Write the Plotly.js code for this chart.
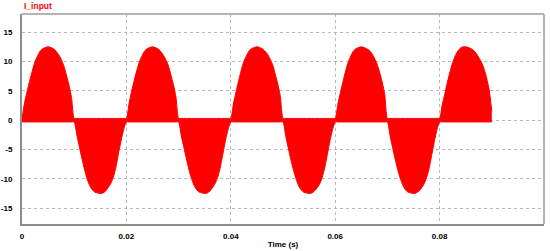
<!DOCTYPE html>
<html>
<head>
<meta charset="utf-8">
<script src="https://cdn.plot.ly/plotly-3.0.1.min.js"></script>
<style>
  html, body { margin: 0; padding: 0; background: #ffffff; }
  #chart { width: 550px; height: 251px; }
</style>
</head>
<body>
<div id="chart"></div>
<script>
// ---- data ----
const seriesName = "I_input";
const sampleStep = 0.0005;           // s between envelope samples
// envelope of the switched current (A), one value per sample, t = 0 ... 0.09 s
const iEnvelope = [
  // 0.000 - 0.0095 (positive)
  0.3, 3.0, 5.0, 6.8, 8.5, 10.0, 11.0, 11.8, 12.2, 12.4, 12.5, 12.4, 12.2, 11.8, 11.2, 10.4, 9.3, 7.7, 6.0, 3.8,
  // 0.010 - 0.0195 (negative)
  -0.3, -2.5, -4.6, -6.6, -8.5, -10.1, -11.2, -11.9, -12.3, -12.4, -12.5, -12.4, -12.1, -11.5, -10.8, -9.7, -8.0, -5.6, -3.4, -1.5,
  // 0.020 - 0.0295
  0.3, 2.8, 4.9, 6.8, 8.5, 10.0, 11.0, 11.8, 12.2, 12.4, 12.5, 12.4, 12.2, 11.8, 11.2, 10.4, 9.4, 7.8, 6.1, 3.9,
  // 0.030 - 0.0395
  -0.3, -2.6, -4.6, -6.6, -8.5, -10.0, -11.2, -11.9, -12.3, -12.4, -12.5, -12.4, -12.1, -11.5, -10.8, -9.7, -8.0, -5.7, -3.4, -1.5,
  // 0.040 - 0.0495
  0.3, 2.8, 4.8, 6.7, 8.5, 10.0, 11.0, 11.8, 12.2, 12.4, 12.5, 12.4, 12.2, 11.8, 11.3, 10.5, 9.5, 7.9, 6.2, 4.0,
  // 0.050 - 0.0595
  -0.3, -2.6, -4.7, -6.7, -8.5, -10.0, -11.2, -11.9, -12.3, -12.4, -12.5, -12.4, -12.1, -11.6, -10.9, -9.8, -8.1, -5.8, -3.5, -1.6,
  // 0.060 - 0.0695
  0.3, 2.7, 4.7, 6.6, 8.4, 9.9, 11.0, 11.8, 12.2, 12.4, 12.5, 12.4, 12.2, 11.9, 11.4, 10.6, 9.6, 8.2, 6.5, 4.3,
  // 0.070 - 0.0795
  -0.3, -2.6, -4.7, -6.7, -8.5, -10.0, -11.2, -11.9, -12.3, -12.4, -12.5, -12.4, -12.1, -11.6, -10.9, -9.8, -8.2, -5.9, -3.6, -1.6,
  // 0.080 - 0.090
  0.3, 2.6, 4.5, 6.5, 8.3, 9.8, 11.0, 11.8, 12.3, 12.5, 12.5, 12.4, 12.2, 11.9, 11.4, 10.7, 9.9, 8.8, 7.2, 5.2, 1.5
];
const zeroBand = 0.3;                // half-thickness of the switching ripple around 0
const xTickVals = [0, 0.02, 0.04, 0.06, 0.08, 0.1];
const xTickText = ["0", "0.02", "0.04", "0.06", "0.08", "0.1"];
const yTickVals = [-15, -10, -5, 0, 5, 10, 15];
const yTickText = ["-15", "-10", "-5", "0", "5", "10", "15"];

// ---- build traces ----
const t = iEnvelope.map((_, i) => +(i * sampleStep).toFixed(4));
const lower = iEnvelope.map(v => (v < 0 ? v : -zeroBand));
const upper = iEnvelope.map(v => (v > 0 ? v : zeroBand));

const red = "#ff0000";
const traces = [
  { x: t, y: lower, type: "scatter", mode: "lines",
    line: { color: red, width: 1, shape: "spline", smoothing: 0.6 }, hoverinfo: "skip", showlegend: false },
  { x: t, y: upper, type: "scatter", mode: "lines", fill: "tonexty",
    fillcolor: red, line: { color: red, width: 1, shape: "spline", smoothing: 0.6 }, name: seriesName, showlegend: false }
];

const fontFamily = "Liberation Sans, Arial, sans-serif";
const tickFont = { family: fontFamily, size: 8, color: "#000000", weight: "bold" };

const layout = {
  width: 550, height: 251,
  margin: { l: 22, r: 6, t: 14, b: 27, pad: 0 },
  paper_bgcolor: "#ffffff",
  plot_bgcolor: "#ffffff",
  showlegend: false,
  xaxis: {
    range: [0, 0.1],
    tickvals: xTickVals, ticktext: xTickText,
    tickfont: tickFont,
    ticks: "", ticklabelstandoff: 3,
    showgrid: true, gridcolor: "#b8b8b8", gridwidth: 1, griddash: "dot",
    zeroline: false,
    showline: true, linecolor: "#8c8c8c", linewidth: 2,
    title: { text: "Time (s)", font: { family: fontFamily, size: 8, color: "#000000", weight: "bold" }, standoff: 2 }
  },
  yaxis: {
    range: [-17.7, 18.1],
    tickvals: yTickVals, ticktext: yTickText,
    tickfont: tickFont,
    ticks: "", ticklabelstandoff: 6,
    showgrid: true, gridcolor: "#b8b8b8", gridwidth: 1, griddash: "dot",
    zeroline: false,
    showline: true, linecolor: "#8c8c8c", linewidth: 2
  },
  shapes: [
    { type: "line", xref: "paper", yref: "paper", x0: 0, x1: 1, y0: 1, y1: 1,
      line: { color: "#b4b4b4", width: 2 } },
    { type: "line", xref: "paper", yref: "paper", x0: 1, x1: 1, y0: 0, y1: 1,
      line: { color: "#b4b4b4", width: 2 } }
  ],
  annotations: [
    { text: seriesName, xref: "paper", yref: "paper", x: 0, y: 1, yshift: 8,
      xanchor: "left", yanchor: "middle", showarrow: false,
      font: { family: fontFamily, size: 8.5, color: red, weight: "bold" } }
  ]
};

Plotly.newPlot("chart", traces, layout, { displayModeBar: false, staticPlot: true });
</script>
</body>
</html>
